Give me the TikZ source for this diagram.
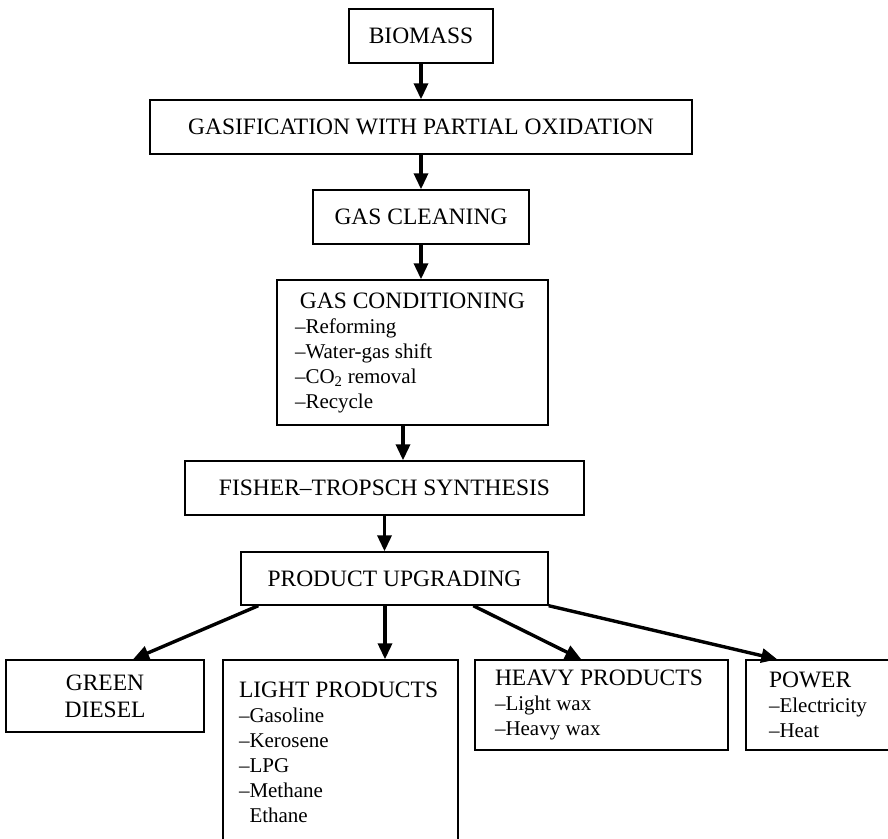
\documentclass[tikz,border=0pt]{standalone}
\usepackage{fontspec}
\setmainfont{Liberation Serif}
\usetikzlibrary{arrows.meta}
\tikzset{box/.style = {draw, line width = 1.4pt, inner sep = 0pt, minimum height = 54pt,
                       font = \fontsize{23.5}{27}\selectfont}}
\tikzset{listbox/.style = {box, align = flush left, font = \fontsize{21}{25}\selectfont}}
\tikzset{flow/.style = {line width = 3.4pt, -{Triangle[length = 16pt, width = 14pt]}}}
\newcommand{\hd}[1]{{\fontsize{23.5}{25}\selectfont #1}}

\begin{document}
\begin{tikzpicture}[x = 1pt, y = -1pt]
      \useasboundingbox (0, 0) rectangle (888, 838);
      \node [box, minimum width = 144pt] (biomass) at (421, 36) {BIOMASS};
      \node [box, minimum width = 542pt] (gasif) at (421, 127) {GASIFICATION WITH PARTIAL OXIDATION};
      \node [box, minimum width = 216pt] (clean) at (421, 217) {GAS CLEANING};
      \node [listbox, text width = 235pt, inner xsep = 18pt, minimum height = 145pt] (cond) at (412.5, 352.5)
            {\makebox[235pt]{\hd{GAS CONDITIONING}}\\ \textendash Reforming\\ \textendash Water-gas shift\\
             \textendash CO\textsubscript{2} removal\\ \textendash Recycle};
      \node [box, minimum width = 399pt] (fisher) at (384.5, 488) {FISHER\textendash TROPSCH SYNTHESIS};
      \node [box, minimum width = 307pt, minimum height = 53pt] (upgrade) at (394.5, 578.5) {PRODUCT UPGRADING};
      \node [box, align = center, minimum width = 198pt, minimum height = 72pt] (diesel) at (105, 696) {GREEN\\DIESEL};
      \node [listbox, text width = 203pt, inner xsep = 16pt, minimum height = 185pt] (light) at (340.5, 752.5)
            {\hd{LIGHT PRODUCTS}\\ \textendash Gasoline\\ \textendash Kerosene\\ \textendash LPG\\
             \textendash Methane\\ \phantom{\textendash}Ethane};
      \node [listbox, text width = 213pt, inner xsep = 20pt, minimum height = 90pt] (heavy) at (601.5, 705)
            {\hd{HEAVY PRODUCTS}\\ \textendash Light wax\\ \textendash Heavy wax};
      \node [listbox, text width = 103pt, inner xsep = 23pt, minimum height = 90pt] (power) at (820.5, 705)
            {\hd{POWER}\\ \textendash Electricity\\ \textendash Heat};

      \draw [flow] (biomass) -- (gasif);
      \draw [flow] (gasif) -- (clean);
      \draw [flow] (clean.south) -- (clean.south |- cond.north);
      \coordinate (c1) at ([xshift = -9.5pt]cond.south);
      \draw [flow] (c1) -- (c1 |- fisher.north);
      \draw [flow] (fisher.south) -- (fisher.south |- upgrade.north);
      \draw [flow] ([xshift = 18pt]upgrade.south west) -- ([xshift = 28pt]diesel.north);
      \coordinate (c2) at ([xshift = -9.5pt]upgrade.south);
      \draw [flow] (c2) -- (c2 |- light.north);
      \draw [flow] ([xshift = 233pt]upgrade.south west) -- ([xshift = 107pt]heavy.north west);
      \draw [flow] (upgrade.south east) -- ([xshift = 32pt]power.north west);
    \end{tikzpicture}
\end{document}
